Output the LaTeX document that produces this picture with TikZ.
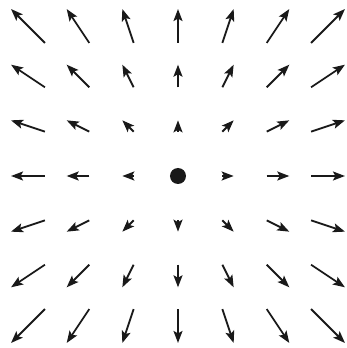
\documentclass[tikz,border=0pt]{standalone}
\usetikzlibrary{arrows.meta}
\begin{document}
\begin{tikzpicture}[x=1pt,y=1pt,
  vec/.style={line width=1.8pt,color=black!90,-{Stealth[length=12pt,width=9pt,inset=2.5pt]}}]
\useasboundingbox (-178,-172) rectangle (169,176);
\fill[black!90] (0,0) circle (8);
\foreach \i in {-3,...,3}{
  \foreach \j in {-3,...,3}{
    \ifnum\numexpr\i*\i+\j*\j\relax>0
      \draw[vec] ({50*\i-5.65*\i},{50*\j-5.65*\j}) -- ({50*\i+5.65*\i},{50*\j+5.65*\j});
    \fi
  }
}
\end{tikzpicture}
\end{document}
